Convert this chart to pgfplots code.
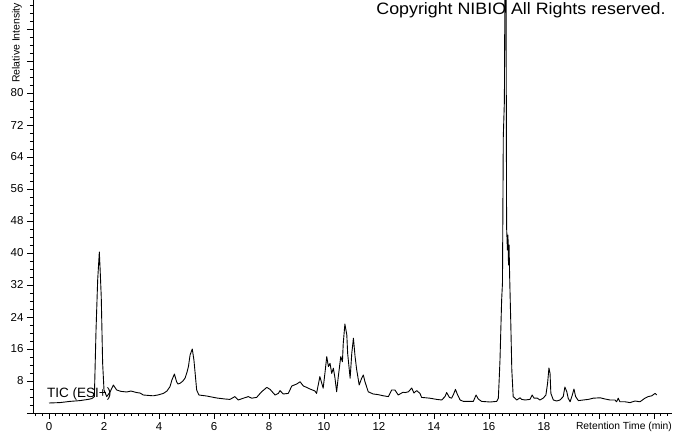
\documentclass[border=0pt]{standalone}
\usepackage{fontspec}
\setmainfont{Liberation Sans}
\usepackage{pgfplots}
\pgfplotsset{compat=1.18}

\begin{document}
\begin{tikzpicture}
\begin{axis}[
  at={(0pt,0pt)}, anchor=south west,
  scale only axis, width=639pt, height=413pt,
  xmin=-0.582, xmax=22.655, ymin=0, ymax=103.25,
  axis x line=bottom, axis y line=left,
  axis line style={-, line width=0.8pt},
  tick align=outside, major tick length=6pt, minor tick length=3pt,
  tick style={black, line width=0.8pt},
  xtick={0,2,...,22}, xticklabels={0,2,4,6,8,10,12,14,16,18,,},
  minor xtick={-0.5,-0.25,...,22.5},
  ytick={0,8,...,96}, yticklabels={,8,16,24,32,40,48,56,64,72,80,,},
  minor ytick={2,4,...,102},
  tick label style={font=\fontsize{11.5}{13}\selectfont},
]
% TIC (ESI+) trace
\addplot[black, line width=0.9pt, line join=round, no markers] coordinates {
(0,2.5)(0.4,2.6)(0.76,2.9)(1.13,3.1)(1.42,3.4)(1.56,3.6)(1.65,4.1)
(1.71,20.75)(1.77,33.25)(1.83,40.25)(1.86,35.75)(1.90,29)(1.95,12.5)
(2.0,5.75)(2.10,4.1)(2.22,5.25)(2.34,7)(2.46,5.75)(2.62,5.4)(2.83,5.25)
(2.98,5.5)(3.19,5.1)(3.31,5)(3.43,4.5)(3.6,4.4)(3.79,4.3)(3.96,4.5)
(4.16,4.9)(4.29,5.5)(4.40,6.6)(4.47,8.25)(4.56,9.75)(4.64,7.8)(4.69,7.25)
(4.76,7.4)(4.87,8)(4.95,8.75)(5.02,10.25)(5.07,11.6)(5.13,14.5)(5.21,16)
(5.27,13.25)(5.33,8.75)(5.37,5.75)(5.45,4.5)(5.73,4.25)(6.1,3.75)
(6.40,3.5)(6.58,3.4)(6.76,4.1)(6.88,3.25)(7.07,3.7)(7.25,4.1)(7.37,3.7)
(7.55,3.9)(7.73,5.3)(7.92,6.4)(8.04,5.9)(8.22,4.5)(8.34,4.9)(8.40,5.6)
(8.52,4.75)(8.70,4.9)(8.83,6.75)(9.01,7.25)(9.13,7.8)(9.25,6.75)(9.37,6.4)
(9.49,6)(9.67,5.5)(9.73,4.9)(9.85,9.1)(9.97,6.2)(10.04,10.3)(10.10,14.1)
(10.16,11.6)(10.22,12.4)(10.28,9.9)(10.34,11.2)(10.40,8.7)(10.46,5.3)
(10.52,9.1)(10.61,14.1)(10.67,12.8)(10.70,17.4)(10.76,22.25)(10.83,19.5)
(10.86,14.9)(10.95,8.7)(11.01,14.9)(11.07,18.7)(11.13,14.1)(11.19,10.75)
(11.28,7)(11.37,8.7)(11.43,9.5)(11.49,7.8)(11.61,5.3)(11.79,4.75)(11.96,4.6)
(12.16,4.3)(12.34,4.1)(12.46,5.75)(12.58,5.75)(12.70,4.5)(12.76,4.75)
(12.88,5.2)(12.95,5.1)(13.07,5.3)(13.19,6.25)(13.27,5)(13.37,5.6)(13.49,4.9)
(13.55,3.9)(13.85,3.7)(14.10,3.4)(14.28,3.25)(14.40,4.1)(14.46,5.1)
(14.56,3.9)(14.64,3.7)(14.70,4.5)(14.78,5.9)(14.86,4.5)(14.95,3.25)
(15.07,2.9)(15.31,2.9)(15.43,2.9)(15.53,4.5)(15.61,3.5)(15.73,2.9)
(16.04,2.75)(16.28,2.9)(16.34,3.7)(16.37,8.25)(16.40,13.25)(16.46,28.25)
(16.49,32.5)(16.52,69)(16.56,78)(16.58,108)(16.62,108)(16.64,46.5)
(16.67,40.75)(16.69,44.5)(16.71,37)(16.73,42)(16.75,34.5)(16.79,23.25)
(16.83,10.75)(16.88,4.1)(17.01,3.25)(17.13,3.8)(17.19,3.4)(17.31,3.25)
(17.49,3.4)(17.57,4.5)(17.64,3.7)(17.76,3.7)(17.85,3.25)(17.97,3.7)
(18.07,4.5)(18.13,7.4)(18.18,11.25)(18.22,9.9)(18.25,4.9)(18.34,3.25)
(18.46,3)(18.58,3.25)(18.70,4.1)(18.76,6.5)(18.83,5.3)(18.88,3.7)(18.95,2.8)
(19.03,4.5)(19.09,6)(19.15,4.1)(19.25,3.1)(19.43,3.25)(19.61,3.4)(19.79,3.7)
(20.04,3.8)(20.22,3.5)(20.40,3.25)(20.58,3.25)(20.64,2.8)(20.70,3.7)
(20.76,2.8)(20.95,2.8)(21.13,2.6)(21.31,3)(21.49,2.8)(21.67,3.7)(21.79,4.1)
(21.92,4.3)(22.04,4.9)(22.10,4.5)
};
\end{axis}
\node[font=\fontsize{16.5}{18}\selectfont, anchor=base, xscale=1.08, inner sep=0pt]
  at (488pt,398pt) {Copyright NIBIO All Rights reserved.};
\node[rotate=90, anchor=west, font=\fontsize{10.5}{12}\selectfont, inner sep=0pt]
  at (-16pt,330pt) {Relative Intensity};
\node[anchor=base west, font=\fontsize{13.5}{15}\selectfont, inner sep=0pt]
  at (14pt,15pt) {TIC (ESI+)};
\node[anchor=base east, font=\fontsize{10.3}{12}\selectfont, inner sep=0pt]
  at (639pt,-17pt) {Retention Time (min)};
\pgfresetboundingbox
\path[use as bounding box] (-33pt,-20pt) rectangle (640pt,413pt);
\end{tikzpicture}
\end{document}
